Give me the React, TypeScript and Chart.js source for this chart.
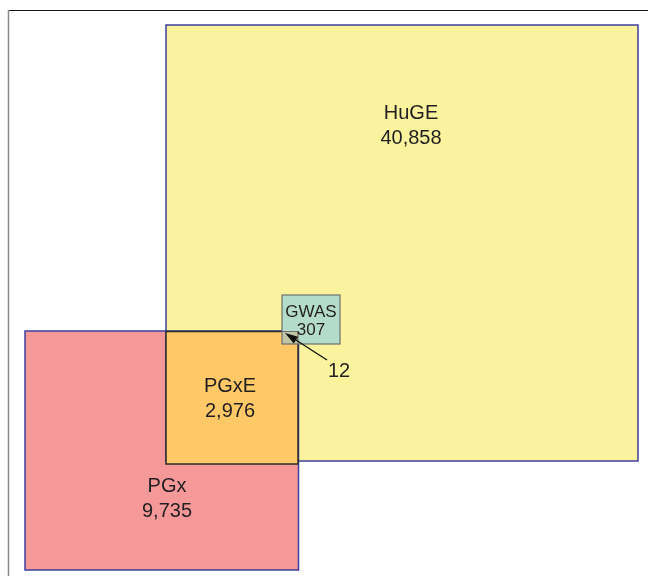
import React, { useEffect, useRef } from "react";
import { Chart, registerables } from "chart.js";

Chart.register(...registerables);

// ---- data ----
const setNames = ["HuGE", "PGx", "PGxE", "GWAS"];
const setCounts = [40858, 9735, 2976, 307];
const overlapName = "GWAS ∩ PGxE";
const overlapCount = 12;

// ---- layout (axis units: 0..648 x, 0..576 y, y downward) ----
// [x0, y0, x1, y1] for each region
const boxes: Record<string, number[]> = {
  HuGE: [166, 25, 638, 461],
  PGx: [25, 331, 298.5, 570],
  PGxE: [166, 331.5, 298, 464],
  GWAS: [282, 295, 340, 344],
  overlap: [282, 331.5, 298, 344],
};
const labelPos: Record<string, number[]> = {
  HuGE: [411, 119],
  PGx: [167, 492],
  PGxE: [230, 392],
  GWAS: [311, 317],
};
const lineGap: Record<string, number> = { HuGE: 25, PGx: 25, PGxE: 25, GWAS: 18 };
const fills: Record<string, string> = {
  HuGE: "#FAF29C",
  PGx: "#F59898",
  PGxE: "#FEC966",
  GWAS: "#B3DDCA",
  overlap: "#BFC6A6",
};
const arrowFrom = [327, 360];
const arrowTo = [285, 333];
const overlapLabelPos = [339, 377];

const FONT = '"Liberation Sans", Arial, Helvetica, sans-serif';

const vennPlugin = {
  id: "vennBoxes",
  afterDatasetsDraw(chart: any) {
    const ctx = chart.ctx as CanvasRenderingContext2D;
    const xs = chart.scales.x;
    const ys = chart.scales.y;
    const px = (v: number) => xs.getPixelForValue(v);
    const py = (v: number) => ys.getPixelForValue(v);
    const rect = (b: number[]) => {
      const x0 = px(b[0]), y0 = py(b[1]), x1 = px(b[2]), y1 = py(b[3]);
      return [x0, y0, x1 - x0, y1 - y0];
    };
    ctx.save();

    // frame
    ctx.strokeStyle = "#1a1a1a";
    ctx.lineWidth = 1.2;
    ctx.beginPath();
    ctx.moveTo(px(8), py(10.5));
    ctx.lineTo(px(648), py(10.5));
    ctx.stroke();
    ctx.strokeStyle = "#8a8a8a";
    ctx.lineWidth = 1.5;
    ctx.beginPath();
    ctx.moveTo(px(8.5), py(10));
    ctx.lineTo(px(8.5), py(576));
    ctx.stroke();

    // fills
    for (const k of ["HuGE", "PGx", "PGxE"]) {
      const [x, y, w, h] = rect(boxes[k]);
      ctx.fillStyle = fills[k];
      ctx.fillRect(x, y, w, h);
    }
    // blue borders for HuGE and PGx
    ctx.strokeStyle = "#3F3F9E";
    ctx.lineWidth = 1.5;
    for (const k of ["HuGE", "PGx"]) {
      const [x, y, w, h] = rect(boxes[k]);
      ctx.strokeRect(x, y, w, h);
    }
    // PGxE refill + black border
    {
      const [x, y, w, h] = rect(boxes.PGxE);
      ctx.fillStyle = fills.PGxE;
      ctx.fillRect(x, y, w, h);
      ctx.strokeStyle = "#2a2a2a";
      ctx.lineWidth = 1.5;
      ctx.strokeRect(x, y, w, h);
    }
    // GWAS
    {
      const [x, y, w, h] = rect(boxes.GWAS);
      ctx.fillStyle = fills.GWAS;
      ctx.fillRect(x, y, w, h);
      const [ox, oy, ow, oh] = rect(boxes.overlap);
      ctx.fillStyle = fills.overlap;
      ctx.fillRect(ox, oy, ow, oh);
      ctx.strokeStyle = "#6f6f6f";
      ctx.lineWidth = 1.2;
      ctx.strokeRect(x, y, w, h);
      ctx.beginPath();
      ctx.moveTo(ox, oy);
      ctx.lineTo(ox + ow, oy);
      ctx.lineTo(ox + ow, oy + oh);
      ctx.stroke();
    }

    // labels
    ctx.fillStyle = "#231f20";
    ctx.textAlign = "center";
    ctx.textBaseline = "alphabetic";
    setNames.forEach((name, i) => {
      const size = name === "GWAS" ? 17 : 20;
      ctx.font = `${size}px ${FONT}`;
      const [lx, ly] = labelPos[name];
      ctx.fillText(name, px(lx), py(ly));
      ctx.fillText(setCounts[i].toLocaleString("en-US"), px(lx), py(ly + lineGap[name]));
    });

    // arrow to overlap
    {
      const x0 = px(arrowFrom[0]), y0 = py(arrowFrom[1]);
      const x1 = px(arrowTo[0]), y1 = py(arrowTo[1]);
      const ang = Math.atan2(y1 - y0, x1 - x0);
      const hl = 13, hw = 4;
      const bx = x1 - hl * Math.cos(ang), by = y1 - hl * Math.sin(ang);
      ctx.strokeStyle = "#111";
      ctx.lineWidth = 1.3;
      ctx.beginPath();
      ctx.moveTo(x0, y0);
      ctx.lineTo(bx, by);
      ctx.stroke();
      ctx.fillStyle = "#111";
      ctx.beginPath();
      ctx.moveTo(x1, y1);
      ctx.lineTo(bx + hw * Math.sin(ang), by - hw * Math.cos(ang));
      ctx.lineTo(bx - hw * Math.sin(ang), by + hw * Math.cos(ang));
      ctx.closePath();
      ctx.fill();
      ctx.fillStyle = "#231f20";
      ctx.font = `20px ${FONT}`;
      ctx.fillText(String(overlapCount), px(overlapLabelPos[0]), py(overlapLabelPos[1]));
    }
    ctx.restore();
  },
};

export default function App() {
  const ref = useRef<HTMLCanvasElement | null>(null);
  useEffect(() => {
    if (!ref.current) return;
    const chart = new Chart(ref.current, {
      type: "scatter",
      data: {
        datasets: [
          {
            label: overlapName,
            data: [],
            pointRadius: 0,
          },
        ],
      },
      options: {
        animation: false,
        responsive: false,
        maintainAspectRatio: false,
        layout: { padding: 0 },
        plugins: { legend: { display: false }, tooltip: { enabled: false } },
        scales: {
          x: { type: "linear", min: 0, max: 648, display: false },
          y: { type: "linear", min: 0, max: 576, reverse: true, display: false },
        },
      },
      plugins: [vennPlugin],
    });
    return () => chart.destroy();
  }, []);
  return (
    <div style={{ position: "fixed", left: 0, top: 0, width: 648, height: 576, background: "#fff" }}>
      <canvas ref={ref} width={648} height={576} style={{ display: "block" }} />
    </div>
  );
}
